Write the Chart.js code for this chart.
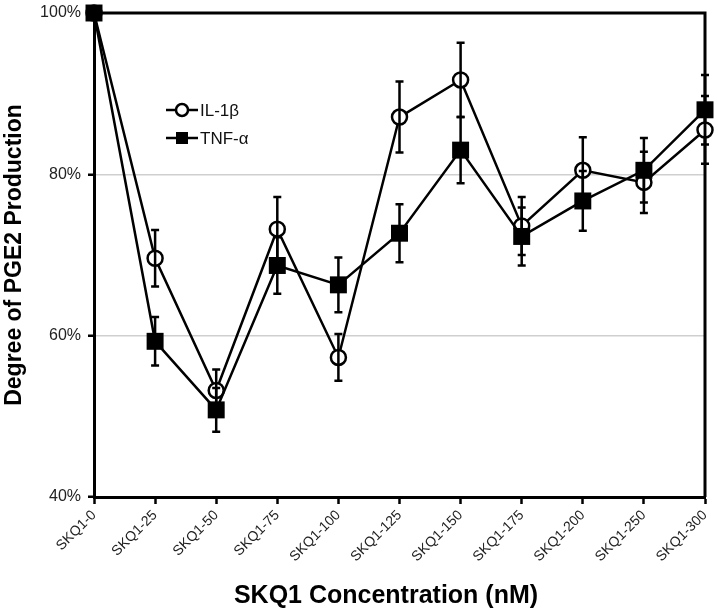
<!DOCTYPE html>
<html>
<head>
<meta charset="utf-8">
<script src="https://cdn.jsdelivr.net/npm/chart.js@4.4.0/dist/chart.umd.min.js"></script>
<style>
  html, body { margin: 0; padding: 0; background: #fff; }
</style>
</head>
<body>
<canvas id="pgeChart" width="718" height="616"></canvas>
<script>
// Datos del gráfico
const categories = ['SKQ1-0', 'SKQ1-25', 'SKQ1-50', 'SKQ1-75', 'SKQ1-100', 'SKQ1-125',
                    'SKQ1-150', 'SKQ1-175', 'SKQ1-200', 'SKQ1-250', 'SKQ1-300'];
const il1bValues = [100, 69.6, 53.2, 73.2, 57.3, 87.1, 91.7, 73.6, 80.5, 79.0, 85.5];
const il1bErrors = [0, 3.5, 2.6, 4.0, 2.9, 4.4, 4.6, 3.6, 4.1, 3.8, 4.2];
const tnfValues = [100, 59.3, 50.8, 68.7, 66.3, 72.7, 83.0, 72.3, 76.7, 80.5, 88.0];
const tnfErrors = [0, 3.0, 2.7, 3.5, 3.4, 3.6, 4.1, 3.6, 3.7, 4.0, 4.3];
const yTicks = [40, 60, 80, 100];

const FONT = '"Liberation Sans", Arial, sans-serif';

// Barras de error
const errorBars = {
    id: 'errorBars',
    afterDatasetsDraw(chart) {
        const ctx = chart.ctx;
        const yScale = chart.scales.y;
        ctx.save();
        ctx.strokeStyle = '#000';
        ctx.lineWidth = 2.5;
        chart.data.datasets.forEach((ds, i) => {
            const meta = chart.getDatasetMeta(i);
            meta.data.forEach((pt, j) => {
                const err = ds.errors[j];
                if (!err) return;
                const top = yScale.getPixelForValue(ds.data[j] + err);
                const bottom = yScale.getPixelForValue(ds.data[j] - err);
                ctx.beginPath();
                ctx.moveTo(pt.x, top);
                ctx.lineTo(pt.x, bottom);
                ctx.moveTo(pt.x - 4, top);
                ctx.lineTo(pt.x + 4, top);
                ctx.moveTo(pt.x - 4, bottom);
                ctx.lineTo(pt.x + 4, bottom);
                ctx.stroke();
            });
        });
        ctx.restore();
    }
};

// Marco superior y derecho
const plotFrame = {
    id: 'plotFrame',
    beforeDatasetsDraw(chart) {
        const { ctx, chartArea: a } = chart;
        ctx.save();
        ctx.strokeStyle = '#000';
        ctx.lineWidth = 3;
        ctx.beginPath();
        ctx.moveTo(a.left, a.top);
        ctx.lineTo(a.right, a.top);
        ctx.lineTo(a.right, a.bottom);
        ctx.stroke();
        ctx.restore();
    }
};

// Leyenda dentro del área
const innerLegend = {
    id: 'innerLegend',
    afterDraw(chart) {
        const ctx = chart.ctx;
        const rows = [
            { ds: chart.data.datasets[0], y: 110 },
            { ds: chart.data.datasets[1], y: 138 }
        ];
        ctx.save();
        rows.forEach(r => {
            ctx.strokeStyle = '#000';
            ctx.lineWidth = 2.5;
            ctx.beginPath();
            ctx.moveTo(166, r.y);
            ctx.lineTo(198, r.y);
            ctx.stroke();
            if (r.ds.pointStyle === 'rect') {
                ctx.fillStyle = '#000';
                ctx.fillRect(176, r.y - 6, 12, 12);
            } else {
                ctx.fillStyle = '#fff';
                ctx.beginPath();
                ctx.arc(182, r.y, 6, 0, Math.PI * 2);
                ctx.fill();
                ctx.stroke();
            }
            ctx.fillStyle = '#111';
            ctx.font = '17px ' + FONT;
            ctx.textBaseline = 'middle';
            ctx.fillText(r.ds.label, 200, r.y + 1);
        });
        ctx.restore();
    }
};

// Título del eje X (centrado como en la figura original)
const xTitle = {
    id: 'xTitle',
    afterDraw(chart) {
        const ctx = chart.ctx;
        ctx.save();
        ctx.fillStyle = '#000';
        ctx.font = 'bold 25px ' + FONT;
        ctx.textAlign = 'center';
        ctx.textBaseline = 'middle';
        ctx.fillText('SKQ1 Concentration (nM)', 386, 596);
        ctx.restore();
    }
};

new Chart(document.getElementById('pgeChart'), {
    type: 'line',
    data: {
        labels: categories,
        datasets: [
            {
                label: 'IL-1β',
                data: il1bValues,
                errors: il1bErrors,
                borderColor: '#000',
                borderWidth: 2.5,
                pointStyle: 'circle',
                pointRadius: 7.5,
                pointBorderWidth: 2.5,
                pointBackgroundColor: '#fff',
                pointBorderColor: '#000',
                tension: 0,
                clip: false,
                order: 2
            },
            {
                label: 'TNF-α',
                data: tnfValues,
                errors: tnfErrors,
                borderColor: '#000',
                borderWidth: 2.5,
                pointStyle: 'rect',
                pointRadius: 12,
                pointBorderWidth: 0,
                pointBackgroundColor: '#000',
                pointBorderColor: '#000',
                tension: 0,
                clip: false,
                order: 1
            }
        ]
    },
    options: {
        responsive: false,
        animation: false,
        layout: { padding: { top: 13, right: 13, left: 0, bottom: 0 } },
        plugins: {
            legend: { display: false },
            tooltip: { enabled: false }
        },
        scales: {
            x: {
                offset: false,
                afterFit: s => {
                    s.height = 119;
                    s.paddingLeft = 0;
                    s.paddingRight = 0;
                },
                ticks: {
                    autoSkip: false,
                    maxRotation: 45,
                    minRotation: 45,
                    padding: 3,
                    color: '#222',
                    font: { size: 14, family: FONT }
                },
                grid: { drawOnChartArea: false, tickLength: 7, tickColor: '#000', tickWidth: 2.5 },
                border: { color: '#000', width: 3 }
            },
            y: {
                min: 40,
                max: 100,
                afterBuildTicks: s => { s.ticks = yTicks.map(v => ({ value: v })); },
                afterFit: s => {
                    s.width = 94;
                    s.paddingTop = 0;
                    s.paddingBottom = 0;
                },
                ticks: {
                    callback: v => v + '%',
                    padding: 7,
                    color: '#222',
                    font: { size: 16, family: FONT }
                },
                grid: { color: '#cfcfcf', lineWidth: 1.5, tickLength: 6, tickColor: '#000', tickWidth: 2.5 },
                border: { color: '#000', width: 3 },
                title: {
                    display: true,
                    text: 'Degree of PGE2 Production',
                    color: '#000',
                    font: { size: 23, weight: 'bold', family: FONT },
                    padding: { top: 1, bottom: 0 }
                }
            }
        }
    },
    plugins: [plotFrame, errorBars, innerLegend, xTitle]
});
</script>
</body>
</html>
